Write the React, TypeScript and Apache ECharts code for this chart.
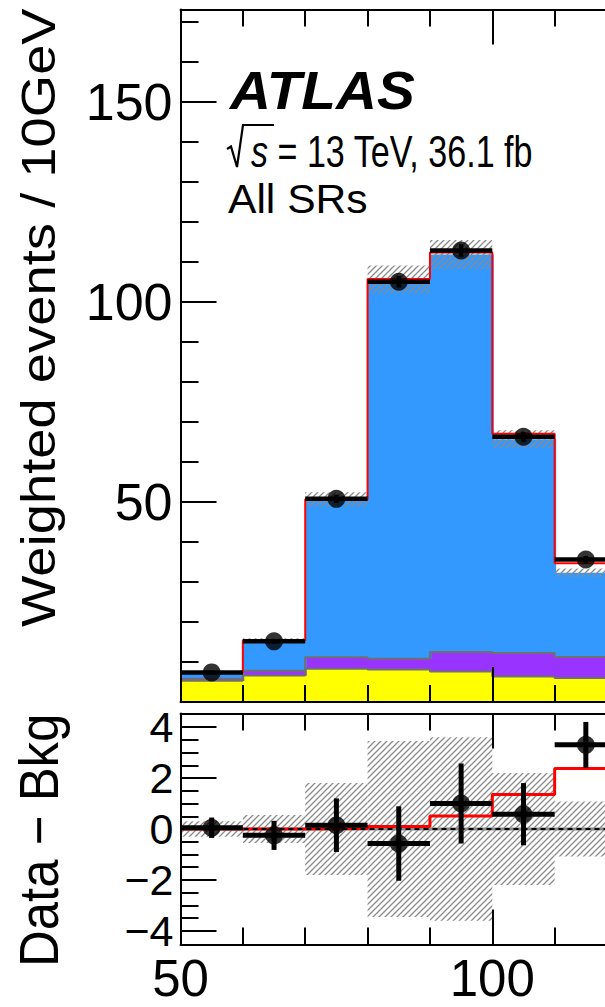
import React, { useEffect, useRef } from 'react';
import * as echarts from 'echarts';

// ---------- data ----------
const binEdges = [50, 60, 70, 80, 90, 100, 110, 120];
const bkgYellow = [5.3, 6.6, 8.3, 8.1, 7.65, 6.4, 6.0];
const bkgPurple = [0.5, 1.2, 2.85, 2.7, 4.85, 5.85, 5.25];
const bkgBlue = [1.55, 7.6, 39.45, 94.77, 99.3, 53.42, 21.05];
const bkgUncert = [0.3, 0.55, 1.8, 3.45, 3.6, 2.2, 1.08];
const signalValues = [0, 0, 0.02, 0.1, 0.51, 1.35, 2.37];
const dataValues = [7.4, 15.15, 50.75, 105.0, 112.8, 66.25, 35.6];
const dataErrors = [0.4, 0.57, 1.05, 1.46, 1.57, 1.22, 0.9];

const xMajorTicks = [50, 100, 150];
const xTickLabels = [50, 100];
const upperYMajorTicks = [0, 50, 100, 150];
const upperYTickLabels = [50, 100, 150];
const lowerYMajorTicks = [-4, -2, 0, 2, 4];
const lowerYTickLabels = [-4, -2, 0, 2, 4];

const X_MIN = 50;
const X_MAX = 150;
const UPPER_Y_MAX = 173;
const LOWER_Y_LIM = 4.53;

const FONT = "'Liberation Sans', Arial, Helvetica, sans-serif";

// ---------- derived ----------
const bkgTotal = bkgYellow.map((v, i) => v + bkgPurple[i] + bkgBlue[i]);
const diffValues = dataValues.map((v, i) => v - bkgTotal[i]);
const binCenters = dataValues.map((_, i) => (binEdges[i] + binEdges[i + 1]) / 2);

const xMinorTicks: number[] = [];
for (let v = X_MIN + 10; v < X_MAX; v += 10) if (v % 50 !== 0) xMinorTicks.push(v);
const upperYMinorTicks: number[] = [];
for (let v = 10; v < UPPER_Y_MAX; v += 10) if (v % 50 !== 0) upperYMinorTicks.push(v);
const lowerYMinorTicks: number[] = [];
for (let k = -8; k <= 8; k++) if (k % 4 !== 0) lowerYMinorTicks.push(k / 2);

const hatchSvg =
  '<svg xmlns="http://www.w3.org/2000/svg" width="6" height="6">' +
  '<path d="M-1.5,1.5 L1.5,-1.5 M0,6 L6,0 M4.5,7.5 L7.5,4.5" stroke="#8a8a8a" stroke-width="1.3" fill="none"/></svg>';
const hatchPattern: any = {
  image: 'data:image/svg+xml;charset=utf-8,' + encodeURIComponent(hatchSvg),
  repeat: 'repeat',
  imageWidth: 6,
  imageHeight: 6,
};

function stepData(values: number[]) {
  const d: number[][] = values.map((v, i) => [binEdges[i], v]);
  d.push([binEdges[values.length], values[values.length - 1]]);
  return d;
}

function rectSeries(name: string, lows: number[], highs: number[], fill: any, xi: number, yi: number, z: number, bleed: number) {
  return {
    type: 'custom',
    name,
    xAxisIndex: xi,
    yAxisIndex: yi,
    z,
    silent: true,
    data: lows.map((lo, i) => [binEdges[i], binEdges[i + 1], lo, highs[i]]),
    encode: { x: [0, 1], y: [2, 3] },
    renderItem: (params: any, api: any) => {
      const p0 = api.coord([api.value(0), api.value(2)]);
      const p1 = api.coord([api.value(1), api.value(3)]);
      return {
        type: 'rect',
        shape: { x: p0[0], y: p1[1], width: p1[0] - p0[0] + bleed, height: p0[1] - p1[1] },
        style: { fill },
      };
    },
  };
}

function stepLine(name: string, values: number[], color: string, width: number, xi: number, yi: number, z: number, type: any = 'solid') {
  return {
    type: 'line',
    name,
    xAxisIndex: xi,
    yAxisIndex: yi,
    z,
    step: 'end',
    symbol: 'none',
    silent: true,
    data: stepData(values),
    lineStyle: { color, width, type },
  };
}

function errorSeries(name: string, values: number[], errs: number[], xi: number, yi: number, width: number) {
  return {
    type: 'custom',
    name,
    xAxisIndex: xi,
    yAxisIndex: yi,
    z: 8,
    silent: true,
    data: values.map((v, i) => [binCenters[i], v, errs[i], binEdges[i], binEdges[i + 1]]),
    encode: { x: 0, y: 1 },
    renderItem: (params: any, api: any) => {
      const y = api.value(1);
      const e = api.value(2);
      const a = api.coord([api.value(3), y]);
      const b = api.coord([api.value(4), y]);
      const c = api.coord([api.value(0), y - e]);
      const d = api.coord([api.value(0), y + e]);
      const style = { stroke: '#000', lineWidth: width };
      return {
        type: 'group',
        children: [
          { type: 'line', shape: { x1: a[0], y1: a[1], x2: b[0], y2: b[1] }, style },
          { type: 'line', shape: { x1: c[0], y1: c[1], x2: d[0], y2: d[1] }, style },
        ],
      };
    },
  };
}

function pointSeries(name: string, values: number[], xi: number, yi: number) {
  return {
    type: 'scatter',
    name,
    xAxisIndex: xi,
    yAxisIndex: yi,
    z: 9,
    silent: true,
    symbol: 'circle',
    symbolSize: 18,
    itemStyle: { color: '#000' },
    data: values.map((v, i) => [binCenters[i], v]),
  };
}

const fmt = (v: number) => (v < 0 ? '\u2212' + Math.abs(v) : String(v));

function xAxisDef(gridIndex: number, position: string, ticks: number[], len: number, line: boolean, labels?: number[]) {
  return {
    type: 'value',
    gridIndex,
    position,
    min: X_MIN,
    max: X_MAX,
    z: 10,
    axisLine: { show: line, onZero: false, lineStyle: { color: '#000', width: 2 } },
    axisTick: { show: true, inside: true, length: len, customValues: ticks, lineStyle: { color: '#000', width: 2 } },
    axisLabel: labels
      ? { show: true, customValues: labels, fontSize: 51, fontFamily: FONT, color: '#000', margin: 8, formatter: fmt }
      : { show: false },
    splitLine: { show: false },
  };
}

function yAxisDef(gridIndex: number, min: number, max: number, ticks: number[], len: number, line: boolean, labels?: number[], fontSize = 52, margin = 8) {
  return {
    type: 'value',
    gridIndex,
    position: 'left',
    min,
    max,
    z: 10,
    axisLine: { show: line, onZero: false, lineStyle: { color: '#000', width: 2 } },
    axisTick: { show: true, inside: true, length: len, customValues: ticks, lineStyle: { color: '#000', width: 2 } },
    axisLabel: labels
      ? { show: true, customValues: labels, fontSize, fontFamily: FONT, color: '#000', margin, formatter: fmt }
      : { show: false },
    splitLine: { show: false },
  };
}

const upperTotal = bkgTotal.map((v, i) => v + signalValues[i]);
const purpleTop = bkgYellow.map((v, i) => v + bkgPurple[i]);
const zeros = dataValues.map(() => 0);
const bkgLow = bkgTotal.map((v, i) => v - bkgUncert[i]);
const bkgHigh = bkgTotal.map((v, i) => v + bkgUncert[i]);
const uncLow = bkgUncert.map((v) => -v);

const option: any = {
  animation: false,
  backgroundColor: '#fff',
  grid: [
    { left: 180.5, top: 9.5, width: 623.6, height: 692.5, containLabel: false, outerBoundsMode: 'none' },
    { left: 180.5, top: 713.5, width: 623.6, height: 231, containLabel: false, outerBoundsMode: 'none' },
  ],
  xAxis: [
    xAxisDef(0, 'bottom', xMajorTicks, 35, true),
    xAxisDef(0, 'bottom', xMinorTicks, 17, false),
    xAxisDef(0, 'top', xMajorTicks, 35, true),
    xAxisDef(0, 'top', xMinorTicks, 17, false),
    xAxisDef(1, 'bottom', xMajorTicks, 35, true, xTickLabels),
    xAxisDef(1, 'bottom', xMinorTicks, 17, false),
    xAxisDef(1, 'top', xMajorTicks, 35, true),
    xAxisDef(1, 'top', xMinorTicks, 17, false),
  ],
  yAxis: [
    yAxisDef(0, 0, UPPER_Y_MAX, upperYMajorTicks, 36, true, upperYTickLabels, 52, 8),
    yAxisDef(0, 0, UPPER_Y_MAX, upperYMinorTicks, 18, false),
    yAxisDef(1, -LOWER_Y_LIM, LOWER_Y_LIM, lowerYMajorTicks, 36, true, lowerYTickLabels, 43, 7),
    yAxisDef(1, -LOWER_Y_LIM, LOWER_Y_LIM, lowerYMinorTicks, 18, false),
  ],
  series: [
    // upper panel: stacked backgrounds
    rectSeries('Bkg yellow', zeros, bkgYellow, '#ffff00', 0, 0, 1, 1.5),
    rectSeries('Bkg purple', bkgYellow, purpleTop, '#9933ff', 0, 0, 1, 1.5),
    rectSeries('Bkg blue', purpleTop, bkgTotal, '#3399ff', 0, 0, 1, 1.5),
    stepLine('Yellow edge', bkgYellow, '#707070', 2, 0, 0, 2),
    stepLine('Purple edge', purpleTop, '#707070', 2, 0, 0, 2),
    rectSeries('Bkg uncertainty', bkgLow, bkgHigh, hatchPattern, 0, 0, 3, 0),
    stepLine('Bkg + signal', upperTotal, '#ff0000', 2, 0, 0, 4),
    errorSeries('Data errors', dataValues, dataErrors, 0, 0, 4.5),
    pointSeries('Data', dataValues, 0, 0),
    // lower panel
    rectSeries('Bkg uncertainty (ratio)', uncLow, bkgUncert, hatchPattern, 4, 2, 1, 0),
    {
      type: 'line', name: 'Zero', xAxisIndex: 4, yAxisIndex: 2, z: 2, symbol: 'none', silent: true,
      data: [[X_MIN, 0], [X_MAX, 0]], lineStyle: { color: '#8a8a8a', width: 3 },
    },
    stepLine('Signal', signalValues, '#ff0000', 3, 4, 2, 3),
    {
      type: 'line', name: 'Zero dashed', xAxisIndex: 4, yAxisIndex: 2, z: 4, symbol: 'none', silent: true,
      data: [[X_MIN, 0], [X_MAX, 0]], lineStyle: { color: '#000', width: 2, type: [5, 4] },
    },
    errorSeries('Data - Bkg errors', diffValues, dataErrors, 4, 2, 5),
    pointSeries('Data - Bkg', diffValues, 4, 2),
  ],
  graphic: [
    {
      type: 'text', x: 38, y: 627, rotation: Math.PI / 2, scaleX: 1.11,
      style: { text: 'Weighted events / 10GeV', fontSize: 49, fontFamily: FONT, fill: '#000', align: 'left', verticalAlign: 'middle' },
    },
    {
      type: 'text', x: 38.5, y: 967, rotation: Math.PI / 2, scaleX: 0.91,
      style: { text: 'Data \u2212 Bkg', fontSize: 56, fontFamily: FONT, fill: '#000', align: 'left', verticalAlign: 'middle' },
    },
    {
      type: 'text', x: 230, y: 91, scaleX: 1.06,
      style: { text: 'ATLAS', fontSize: 53.5, fontWeight: 'bold', fontStyle: 'italic', fontFamily: FONT, fill: '#000', align: 'left', verticalAlign: 'middle' },
    },
    {
      type: 'polyline',
      shape: { points: [[227, 149], [231, 146.5], [237, 167], [243, 125], [274, 125]] },
      style: { stroke: '#000', lineWidth: 2.2, fill: 'none' },
    },
    {
      type: 'text', x: 251, y: 151, scaleX: 0.775,
      style: {
        text: '{i|s} = 13 TeV, 36.1 fb', fontSize: 44, fontFamily: FONT, fill: '#000', align: 'left', verticalAlign: 'middle',
        rich: { i: { fontStyle: 'italic', fontSize: 44, fontFamily: FONT } },
      },
    },
    {
      type: 'text', x: 228, y: 199, scaleX: 1.065,
      style: { text: 'All SRs', fontSize: 40, fontFamily: FONT, fill: '#000', align: 'left', verticalAlign: 'middle' },
    },
  ],
};

export default function App() {
  const ref = useRef<HTMLDivElement>(null);
  useEffect(() => {
    if (!ref.current) return;
    const chart = echarts.init(ref.current, null, { renderer: 'svg' });
    chart.setOption(option);
    return () => chart.dispose();
  }, []);
  return (
    <div
      ref={ref}
      style={{ position: 'fixed', left: 0, top: 0, width: 605, height: 1007, background: '#fff', overflow: 'hidden' }}
    />
  );
}
